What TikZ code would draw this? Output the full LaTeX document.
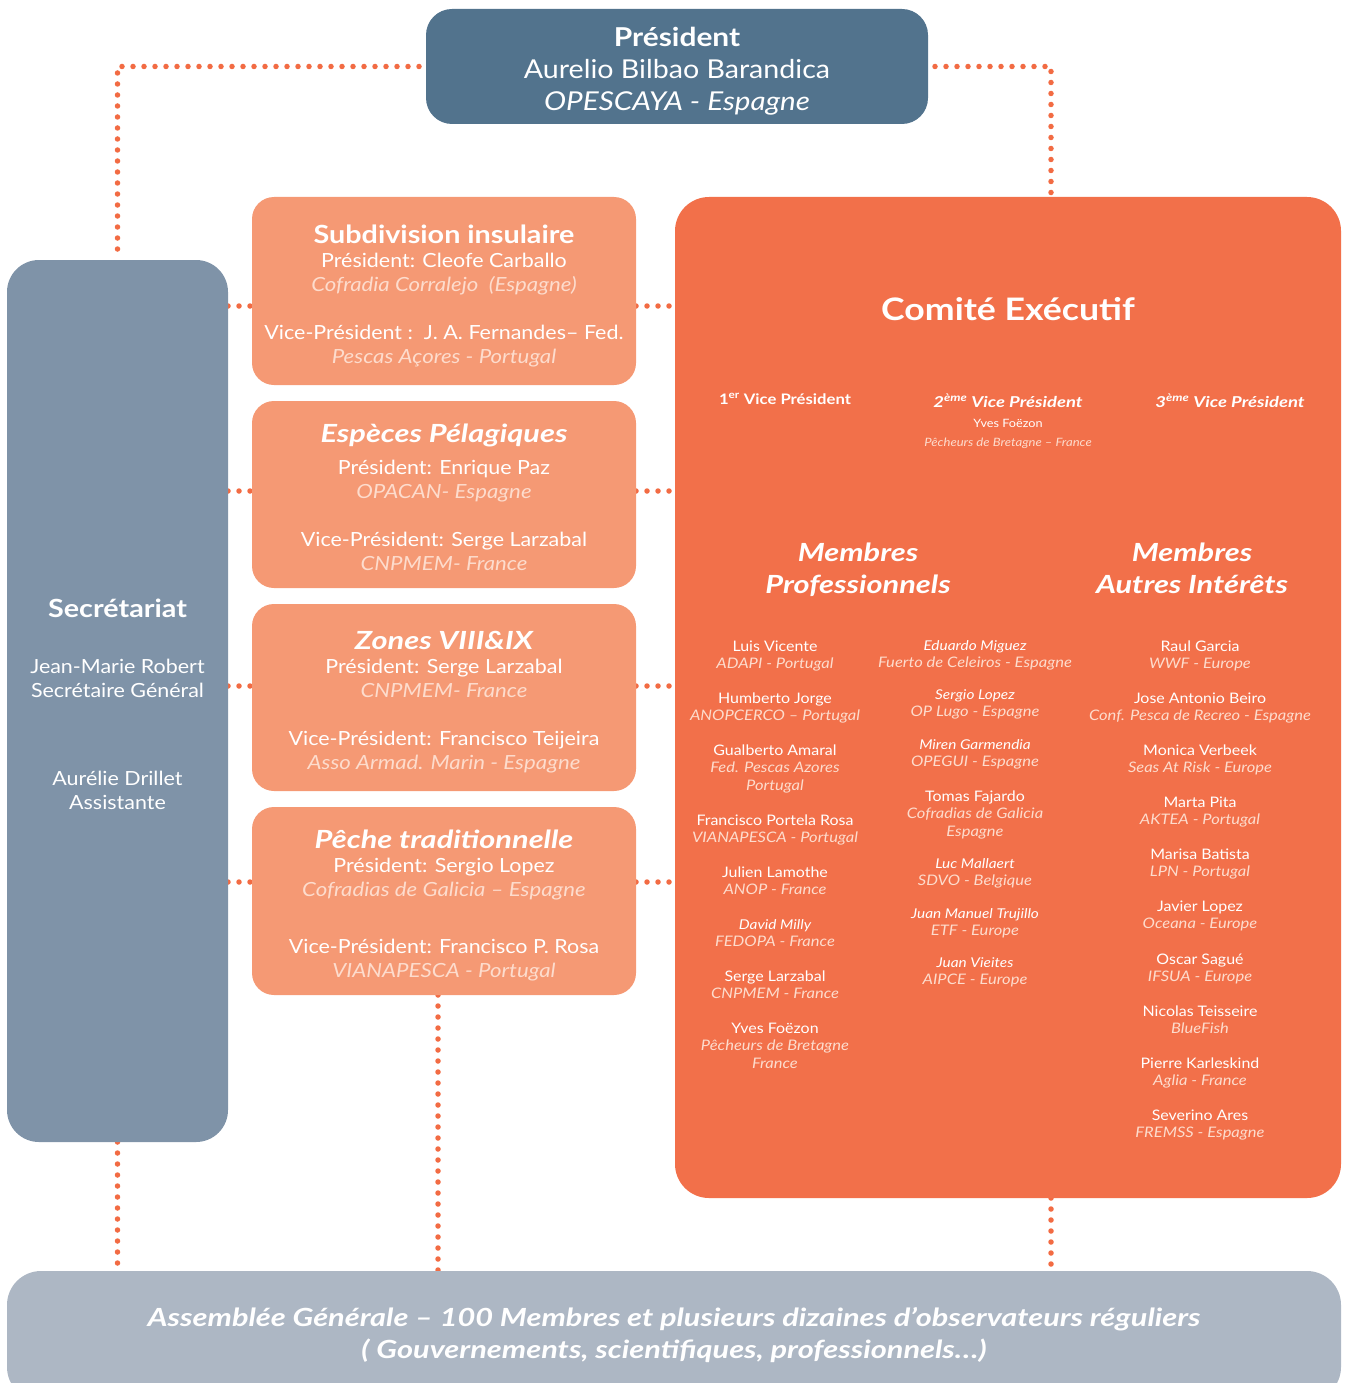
\documentclass[tikz,border=0pt]{standalone}
\usepackage{fontspec}
\setmainfont{Lato}[
  UprightFeatures={FakeStretch=1.1},
  ItalicFeatures={FakeStretch=1.14},
  BoldFeatures={FakeStretch=1.15},
  BoldItalicFeatures={FakeStretch=1.23}]
\definecolor{presc}{HTML}{52738D}
\definecolor{secc}{HTML}{7F93A8}
\definecolor{subc}{HTML}{F59974}
\definecolor{comc}{HTML}{F2704A}
\definecolor{agc}{HTML}{ADB7C4}
\definecolor{dotc}{HTML}{F26B43}
\definecolor{pale}{HTML}{FDDCCD}
\newcommand\myfs[1]{\fontsize{#1}{#1}\selectfont}
\pgfdeclarelayer{bg}\pgfsetlayers{bg,main}
\tikzset{
  box/.style={draw=none, inner sep=0, outer sep=0},
  tl/.style={anchor=base, inner sep=0, outer sep=0, text=white},
  ptitle/.style={tl, font=\myfs{26}\bfseries},
  pline/.style={tl, font=\myfs{26}},
  pital/.style={tl, font=\myfs{26}\itshape},
  btitle/.style={tl, font=\myfs{25}\bfseries},
  btitlei/.style={tl, font=\myfs{25}\bfseries\itshape},
  bline/.style={tl, font=\myfs{19.5}},
  bital/.style={tl, font=\myfs{19.5}\itshape, text=pale},
  cname/.style={tl, font=\myfs{14.5}},
  cnamei/.style={tl, font=\myfs{13.5}\itshape},
  corg/.style={tl, font=\myfs{14.5}\itshape, text=pale},
  dotline/.style={draw=dotc, line width=5.5pt, line cap=round, dash pattern=on 0pt off 11pt}
}
\newcommand\mem[6]{%
  \node[#4] (#1n) at (#2,#3) {#5};
  \node[corg] (#1o) at (#2,#3+17) {#6};}
\begin{document}
\begin{tikzpicture}[x=1pt,y=-1pt]
\useasboundingbox (0,0) rectangle (1344,1383);
\clip (0,0) rectangle (1344,1383);

% boxes
\node[box, fill=presc, rounded corners=26pt, minimum width=502pt, minimum height=115pt] (pres) at (677,66.5) {};
\node[box, fill=secc, rounded corners=32pt, minimum width=221pt, minimum height=882pt] (sec) at (117.5,701) {};
\node[box, fill=subc, rounded corners=22pt, minimum width=384pt, minimum height=188pt] (sb1) at (444,291) {};
\node[box, fill=subc, rounded corners=22pt, minimum width=384pt, minimum height=187pt] (sb2) at (444,494.5) {};
\node[box, fill=subc, rounded corners=22pt, minimum width=384pt, minimum height=187pt] (sb3) at (444,697.5) {};
\node[box, fill=subc, rounded corners=22pt, minimum width=384pt, minimum height=188pt] (sb4) at (444,901) {};
\node[box, fill=comc, rounded corners=34pt, minimum width=666pt, minimum height=1001pt] (com) at (1008,697.5) {};
\node[box, fill=agc, rounded corners=34pt, minimum width=1334pt, minimum height=130pt] (ag) at (674,1336) {};

% connectors
\coordinate (cr) at (1051,0);
\coordinate (cp) at (438,0);
\coordinate (h1) at (0,306);
\coordinate (h2) at (0,491);
\coordinate (h3) at (0,686);
\coordinate (h4) at (0,882);
\begin{pgfonlayer}{bg}
\draw[dotline] ([xshift=4pt]pres.west) -| (sec.north);
\draw[dotline] ([xshift=-4pt]pres.east) -| (cr |- com.north);
\draw[dotline] (sec.south) -- (sec.south |- ag.north);
\draw[dotline] (cp |- sb4.south) -- (cp |- ag.north);
\draw[dotline] (cr |- com.south) -- (cr |- ag.north);
\foreach \h/\b in {h1/sb1,h2/sb2,h3/sb3,h4/sb4}{
  \draw[dotline] (sec.east |- \h) -- (\b.west |- \h);
  \draw[dotline] (\b.east |- \h) -- (com.west |- \h);
}
\end{pgfonlayer}

% president
\node[ptitle] (p1) at (677,46.6) {Président};
\node[pline] (p2) at (677,78.6) {Aurelio Bilbao Barandica};
\node[pital] (p3) at (677,110.6) {OPESCAYA - Espagne};

% subdivision insulaire
\node[btitle] (a1) at (444,243) {Subdivision insulaire};
\node[bline] (a2) at (444,267.5) {Président: Cleofe Carballo};
\node[bital] (a3) at (444,291.5) {Cofradia Corralejo\ \ (Espagne)};
\node[bline] (a4) at (444,339.5) {Vice-Président :\ \ J. A. Fernandes– Fed.};
\node[bital] (a5) at (444,363.5) {Pescas Açores - Portugal};

% especes pelagiques
\node[btitlei] (b1) at (444,442) {Espèces Pélagiques};
\node[bline] (b2) at (444,474.5) {Président: Enrique Paz};
\node[bital] (b3) at (444,498.5) {OPACAN- Espagne};
\node[bline] (b4) at (444,546.5) {Vice-Président: Serge Larzabal};
\node[bital] (b5) at (444,570.5) {CNPMEM- France};

% zones
\node[btitlei] (z1) at (444,649) {Zones VIII\&IX};
\node[bline] (z2) at (444,673.5) {Président: Serge Larzabal};
\node[bital] (z3) at (444,697.5) {CNPMEM- France};
\node[bline] (z4) at (444,745.5) {Vice-Président: Francisco Teijeira};
\node[bital] (z5) at (444,769.5) {Asso Armad. Marin - Espagne};

% peche traditionnelle
\node[btitlei] (t1) at (444,848) {Pêche traditionnelle};
\node[bline] (t2) at (444,872.5) {Président: Sergio Lopez};
\node[bital] (t3) at (444,896.5) {Cofradias de Galicia – Espagne};
\node[bline] (t4) at (444,953.5) {Vice-Président: Francisco P. Rosa};
\node[bital] (t5) at (444,977.5) {VIANAPESCA - Portugal};

% secretariat
\node[btitle] (s1) at (117.5,617) {Secrétariat};
\node[bline] (s2) at (117.5,673.5) {Jean-Marie Robert};
\node[bline] (s3) at (117.5,697.5) {Secrétaire Général};
\node[bline] (s4) at (117.5,785.5) {Aurélie Drillet};
\node[bline] (s5) at (117.5,809.5) {Assistante};

% comite
\node[tl, font=\myfs{31}\bfseries] (c0) at (1008,320) {Comité Exécutif};
\node[tl, font=\myfs{14.5}\bfseries] (v1) at (785,404) {1\textsuperscript{er} Vice Président};
\node[tl, font=\myfs{15}\bfseries\itshape] (v2) at (1008,407) {2\textsuperscript{ème} Vice Président};
\node[tl, font=\myfs{11.5}] (v2n) at (1008,427) {Yves Foëzon};
\node[tl, font=\myfs{11.5}\itshape, text=pale] (v2o) at (1008,446) {Pêcheurs de Bretagne – France};
\node[tl, font=\myfs{15}\bfseries\itshape] (v3) at (1230,407) {3\textsuperscript{ème} Vice Président};

\node[btitlei] (mp1) at (858,561) {Membres};
\node[btitlei] (mp2) at (858,593) {Professionnels};
\node[btitlei] (ma1) at (1192,561) {Membres};
\node[btitlei] (ma2) at (1192,593) {Autres Intérêts};

% column 1
\mem{k1}{775}{651}{cname}{Luis Vicente}{ADAPI - Portugal}
\mem{k2}{775}{703}{cname}{Humberto Jorge}{ANOPCERCO – Portugal}
\mem{k3}{775}{755}{cname}{Gualberto Amaral}{Fed. Pescas Azores}
\node[corg] (k3p) at (775,790) {Portugal};
\mem{k4}{775}{825}{cname}{Francisco Portela Rosa}{VIANAPESCA - Portugal}
\mem{k5}{775}{877}{cname}{Julien Lamothe}{ANOP - France}
\mem{k6}{775}{929}{cnamei}{David Milly}{FEDOPA - France}
\mem{k7}{775}{981}{cname}{Serge Larzabal}{CNPMEM - France}
\mem{k8}{775}{1033}{cname}{Yves Foëzon}{Pêcheurs de Bretagne}
\node[corg] (k8p) at (775,1068) {France};

% column 2
\mem{m1}{975}{650.5}{cnamei}{Eduardo Miguez}{Fuerto de Celeiros - Espagne}
\mem{m2}{975}{699.5}{cnamei}{Sergio Lopez}{OP Lugo - Espagne}
\mem{m3}{975}{749.5}{cnamei}{Miren Garmendia}{OPEGUI - Espagne}
\mem{m4}{975}{801}{cname}{Tomas Fajardo}{Cofradias de Galicia}
\node[corg] (m4p) at (975,836) {Espagne};
\mem{m5}{975}{868.5}{cnamei}{Luc Mallaert}{SDVO - Belgique}
\mem{m6}{975}{918.5}{cnamei}{Juan Manuel Trujillo}{ETF - Europe}
\mem{m7}{975}{967.5}{cnamei}{Juan Vieites}{AIPCE - Europe}

% column 3
\mem{n1}{1200}{651}{cname}{Raul Garcia}{WWF - Europe}
\mem{n2}{1200}{703}{cname}{Jose Antonio Beiro}{Conf. Pesca de Recreo - Espagne}
\mem{n3}{1200}{755}{cname}{Monica Verbeek}{Seas At Risk - Europe}
\mem{n4}{1200}{807}{cname}{Marta Pita}{AKTEA - Portugal}
\mem{n5}{1200}{859}{cname}{Marisa Batista}{LPN - Portugal}
\mem{n6}{1200}{911}{cname}{Javier Lopez}{Oceana - Europe}
\mem{n7}{1200}{964}{cname}{Oscar Sagué}{IFSUA - Europe}
\mem{n8}{1200}{1016}{cname}{Nicolas Teisseire}{BlueFish}
\mem{n9}{1200}{1068}{cname}{Pierre Karleskind}{Aglia - France}
\mem{n10}{1200}{1120}{cname}{Severino Ares}{FREMSS - Espagne}

% assemblee
\node[btitlei, font=\myfs{25}\bfseries\itshape] (g1) at (674,1326) {Assemblée Générale – 100 Membres et plusieurs dizaines d’observateurs réguliers};
\node[btitlei, font=\myfs{25}\bfseries\itshape] (g2) at (674,1358) {( Gouvernements, scientifiques, professionnels…)};
\end{tikzpicture}
\end{document}
